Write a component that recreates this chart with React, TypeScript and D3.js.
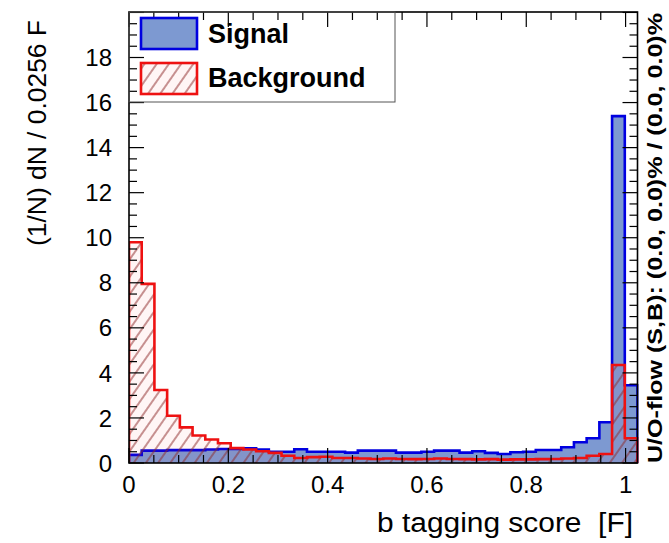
import React from "react";
import * as d3 from "d3";

// Classifier output histograms: 40 bins of width 0.0256, normalised (1/N) dN
const binWidth = 0.0256;
const nBins = 40;

const signal = [
  0.36, 0.55, 0.55, 0.57, 0.57, 0.57, 0.6, 0.62, 0.62, 0.65,
  0.6, 0.5, 0.5, 0.61, 0.5, 0.5, 0.5, 0.46, 0.55, 0.55,
  0.55, 0.46, 0.46, 0.5, 0.55, 0.55, 0.46, 0.52, 0.45, 0.4,
  0.48, 0.5, 0.58, 0.58, 0.7, 0.92, 1.1, 1.81, 15.4, 3.45,
];

const background = [
  9.8, 7.95, 3.24, 2.1, 1.58, 1.22, 1.04, 0.88, 0.66, 0.6,
  0.52, 0.45, 0.32, 0.22, 0.26, 0.28, 0.22, 0.22, 0.2, 0.18,
  0.2, 0.18, 0.17, 0.18, 0.2, 0.18, 0.17, 0.16, 0.17, 0.15,
  0.16, 0.16, 0.17, 0.18, 0.2, 0.22, 0.32, 0.4, 4.35, 1.1,
];

const xTickValues = [0, 0.2, 0.4, 0.6, 0.8, 1];
const xTickLabels = ["0", "0.2", "0.4", "0.6", "0.8", "1"];
const yTickValues = [0, 2, 4, 6, 8, 10, 12, 14, 16, 18];
const yTickLabels = ["0", "2", "4", "6", "8", "10", "12", "14", "16", "18"];

const legendLabels = ["Signal", "Background"];
const xTitle = "b tagging score  [F]";
const yTitle = "(1/N) dN / 0.0256 F";
const flowLabel = "U/O-flow (S,B): (0.0, 0.0)% / (0.0, 0.0)%";

const W = 669;
const H = 543;
const FONT = "'Liberation Sans', Arial, Helvetica, sans-serif";

const SIG_FILL = "#7d99d1";
const SIG_LINE = "#0000e0";
const BKG_LINE = "#ee1111";

export default function App() {
  const x = d3.scaleLinear().domain([0, binWidth * nBins]).range([129, 637.5]);
  const yMax = 1.3 * d3.max(signal)!;
  const y = d3.scaleLinear().domain([0, yMax]).range([463, 12]);

  const stepPoints = (vals: number[]): [number, number][] => {
    const pts: [number, number][] = [[0, 0]];
    vals.forEach((v, i) => {
      pts.push([i * binWidth, v]);
      pts.push([(i + 1) * binWidth, v]);
    });
    pts.push([vals.length * binWidth, 0]);
    return pts;
  };

  const line = d3
    .line<[number, number]>()
    .x((d) => x(d[0]))
    .y((d) => y(d[1]));

  const sigPath = line(stepPoints(signal))!;
  const bkgPath = line(stepPoints(background))!;

  const [x0, x1] = x.range();
  const [yb, yt] = y.range();

  const xMinor = d3.range(0, 1.0001, 0.05).filter((v) => x(v) <= x1 + 0.5);
  const yMinor = d3.range(0, yMax, 0.5);
  const isMajorX = (v: number) => Math.abs(v * 5 - Math.round(v * 5)) < 1e-6;
  const isMajorY = (v: number) => Math.abs(v / 2 - Math.round(v / 2)) < 1e-6;

  const xMajLen = 15, xMinLen = 8, yMajLen = 15, yMinLen = 8;

  return (
    <svg
      width={W}
      height={H}
      viewBox={`0 0 ${W} ${H}`}
      style={{ position: "absolute", left: 0, top: 0, background: "#fff" }}
      fontFamily={FONT}
    >
      <defs>
        <pattern
          id="hatch"
          patternUnits="userSpaceOnUse"
          width={10}
          height={10}
          patternTransform="rotate(35)"
        >
          <line x1={5} y1={-1} x2={5} y2={11} stroke="#8e2a2a" strokeWidth={1} />
        </pattern>
        <clipPath id="frameClip">
          <rect x={x0} y={yt} width={x1 - x0 + 1} height={yb - yt} />
        </clipPath>
      </defs>

      <rect x={0} y={0} width={W} height={H} fill="#fff" />

      {/* histograms */}
      <g clipPath="url(#frameClip)">
        <path d={sigPath + "Z"} fill={SIG_FILL} stroke="none" />
        <path d={sigPath} fill="none" stroke={SIG_LINE} strokeWidth={2.6} strokeLinejoin="miter" />
        <path d={bkgPath + "Z"} fill="rgba(255,60,60,0.05)" stroke="none" />
        <path d={bkgPath + "Z"} fill="url(#hatch)" stroke="none" />
        <path d={bkgPath} fill="none" stroke={BKG_LINE} strokeWidth={2.6} strokeLinejoin="miter" />
      </g>

      {/* ticks */}
      <g stroke="#000" strokeWidth={1.2}>
        {xMinor.map((v, i) => {
          const len = isMajorX(v) ? xMajLen : xMinLen;
          return (
            <g key={"xt" + i}>
              <line x1={x(v)} x2={x(v)} y1={yb} y2={yb - len} />
              <line x1={x(v)} x2={x(v)} y1={yt} y2={yt + len} />
            </g>
          );
        })}
        {yMinor.map((v, i) => {
          const len = isMajorY(v) ? yMajLen : yMinLen;
          return (
            <g key={"yt" + i}>
              <line x1={x0} x2={x0 + len} y1={y(v)} y2={y(v)} />
              <line x1={x1} x2={x1 - len} y1={y(v)} y2={y(v)} />
            </g>
          );
        })}
      </g>

      {/* frame */}
      <rect x={x0} y={yt} width={x1 - x0} height={yb - yt} fill="none" stroke="#000" strokeWidth={1.6} />

      {/* tick labels */}
      <g fontSize={24} fill="#000">
        {xTickValues.map((v, i) => (
          <text key={"xl" + i} x={x(v)} y={493} textAnchor="middle">
            {xTickLabels[i]}
          </text>
        ))}
        {yTickValues.map((v, i) => (
          <text key={"yl" + i} x={112} y={y(v)} dy="0.36em" textAnchor="end">
            {yTickLabels[i]}
          </text>
        ))}
      </g>

      {/* axis titles */}
      <text
        x={633}
        y={532}
        fontSize={27}
        textAnchor="end"
        textLength={256}
        lengthAdjust="spacingAndGlyphs"
        style={{ whiteSpace: "pre" }}
      >
        {xTitle}
      </text>
      <text
        transform="translate(46,246) rotate(-90)"
        fontSize={26}
        textAnchor="start"
        textLength={226}
        lengthAdjust="spacingAndGlyphs"
      >
        {yTitle}
      </text>
      <text
        transform="translate(662,463) rotate(-90)"
        fontSize={21}
        fontWeight="bold"
        textAnchor="start"
        textLength={450}
        lengthAdjust="spacingAndGlyphs"
      >
        {flowLabel}
      </text>

      {/* legend */}
      <g>
        <rect x={x0} y={yt} width={266} height={90} fill="none" stroke="#555" strokeWidth={1} />
        <rect x={141} y={18} width={56} height={31} fill={SIG_FILL} stroke={SIG_LINE} strokeWidth={2.6} />
        <rect x={141} y={63} width={56} height={31} fill="rgba(255,60,60,0.05)" stroke="none" />
        <rect x={141} y={63} width={56} height={31} fill="url(#hatch)" stroke={BKG_LINE} strokeWidth={2.6} />
        <text x={208} y={43} fontSize={27} fontWeight="bold">
          {legendLabels[0]}
        </text>
        <text x={208} y={87} fontSize={27} fontWeight="bold">
          {legendLabels[1]}
        </text>
      </g>
    </svg>
  );
}
